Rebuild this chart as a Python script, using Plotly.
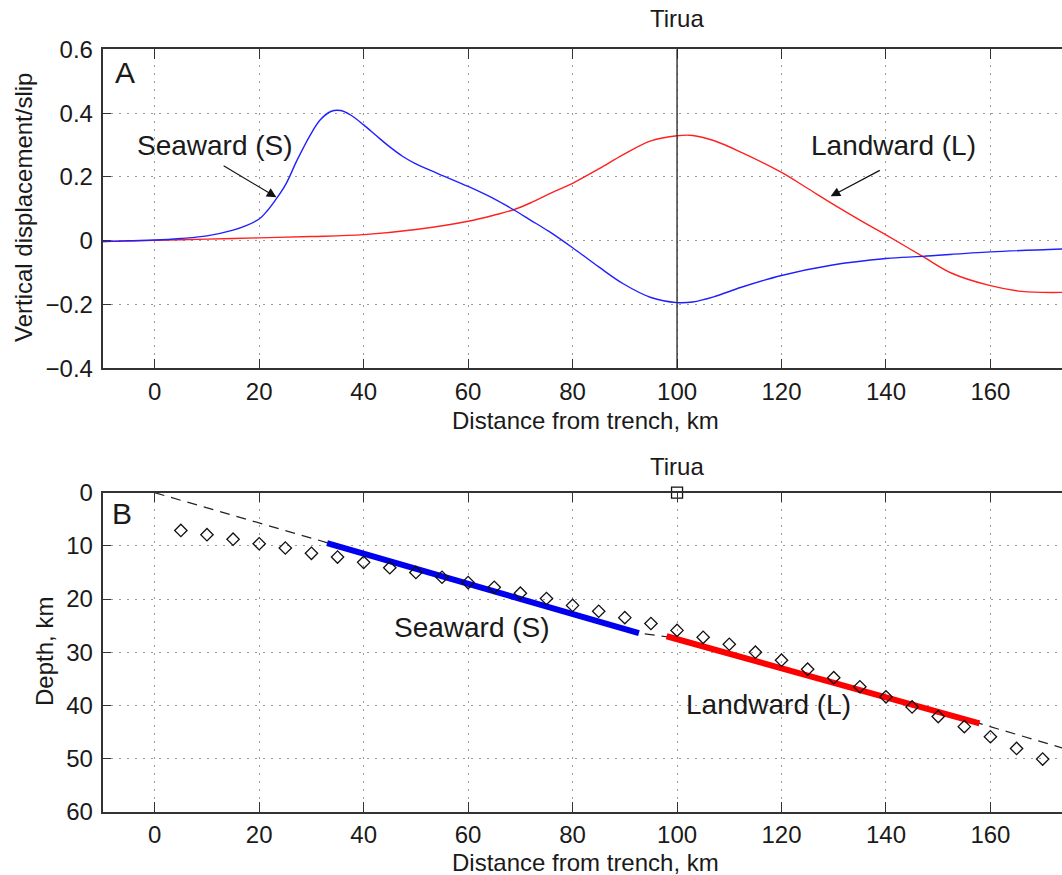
import plotly.graph_objects as go

# ---------------- data ----------------
# Panel A: vertical displacement / slip vs distance from trench (km)
seaward_x = [-10, -5, 0, 5, 10, 15, 17.5, 20, 21.5, 23, 25, 27.3, 29.8, 31.7, 33.7, 35.6, 37.5, 40,
             42.5, 45, 47.5, 50, 54, 60, 65, 68.7, 72, 75.4, 80, 85, 89.7, 95, 100, 103, 107,
             112.3, 120, 129.5, 140, 147, 160, 173.7]
seaward_y = [-0.003, 0.0, 0.002, 0.007, 0.015, 0.033, 0.047, 0.068, 0.093, 0.125, 0.174, 0.254,
             0.332, 0.379, 0.405, 0.408, 0.394, 0.363, 0.328, 0.294, 0.264, 0.241, 0.212, 0.17,
             0.131, 0.097, 0.064, 0.030, -0.022, -0.082, -0.135, -0.178, -0.194, -0.192, -0.176,
             -0.146, -0.109, -0.077, -0.056, -0.049, -0.035, -0.026]

landward_x = [-10, 0, 10, 20, 30, 40, 50, 60, 65.4, 68.7, 72, 75.4, 80, 85, 89.7, 95, 100, 103,
              107, 112.3, 120, 124.8, 130, 136, 140, 147, 152.6, 160, 166, 173.7]
landward_y = [-0.003, 0.001, 0.005, 0.009, 0.013, 0.019, 0.035, 0.061, 0.082, 0.097, 0.119, 0.146,
              0.180, 0.225, 0.270, 0.313, 0.329, 0.33, 0.314, 0.277, 0.214, 0.166, 0.113, 0.055,
              0.018, -0.049, -0.102, -0.141, -0.159, -0.162]

tirua_x = 100

# Panel B: depth profile (km)
fault_x = [0, 33, 92.7, 98, 157.9, 173.7]
fault_depth = [0, 9.4, 26.4, 27.1, 43.4, 48.0]

seaward_seg_x = [33, 92.7]
seaward_seg_depth = [9.5, 26.4]
landward_seg_x = [98, 157.9]
landward_seg_depth = [27.0, 43.4]

diamond_x = [5, 10, 15, 20, 25, 30, 35, 40, 45, 50, 55, 60, 65, 70, 75, 80, 85, 90, 95, 100,
             105, 110, 115, 120, 125, 130, 135, 140, 145, 150, 155, 160, 165, 170]
diamond_depth = [7.1, 7.9, 8.75, 9.6, 10.4, 11.4, 12.1, 13.1, 14.1, 15.0, 15.9, 16.9, 17.8, 18.9,
                 19.9, 21.2, 22.3, 23.5, 24.6, 25.9, 27.2, 28.5, 30.0, 31.5, 33.2, 34.8, 36.5,
                 38.4, 40.3, 42.1, 44.0, 45.9, 48.1, 50.1]

tirua_depth = 0

# ---------------- figure ----------------
W, H = 1062, 875
FONT = "Liberation Sans, Arial, Helvetica, sans-serif"
TXT = "#1a1a1a"
AX = "#333333"
GRID = "#9a9a9a"


def px(sx):
    return sx / W


def py(sy):
    return 1 - sy / H


fig = go.Figure()

fig.add_trace(go.Scatter(x=landward_x, y=landward_y, mode="lines",
                         line=dict(color="#ff2020", width=1.4, shape="spline", smoothing=1.0),
                         xaxis="x", yaxis="y", showlegend=False, name="Landward (L)"))
fig.add_trace(go.Scatter(x=seaward_x, y=seaward_y, mode="lines",
                         line=dict(color="#2020ff", width=1.4, shape="spline", smoothing=1.0),
                         xaxis="x", yaxis="y", showlegend=False, name="Seaward (S)"))

fig.add_trace(go.Scatter(x=fault_x, y=fault_depth, mode="lines",
                         line=dict(color="#222222", width=1.2, dash="10px,7px"),
                         xaxis="x2", yaxis="y2", showlegend=False))
fig.add_trace(go.Scatter(x=seaward_seg_x, y=seaward_seg_depth, mode="lines",
                         line=dict(color="#0000ee", width=6),
                         xaxis="x2", yaxis="y2", showlegend=False))
fig.add_trace(go.Scatter(x=landward_seg_x, y=landward_seg_depth, mode="lines",
                         line=dict(color="#ff0000", width=6),
                         xaxis="x2", yaxis="y2", showlegend=False))
fig.add_trace(go.Scatter(x=diamond_x, y=diamond_depth, mode="markers",
                         marker=dict(symbol="diamond-open", size=9.5, color="#111111",
                                     line=dict(width=1.3, color="#111111")),
                         xaxis="x2", yaxis="y2", showlegend=False))
fig.add_trace(go.Scatter(x=[tirua_x], y=[tirua_depth], mode="markers",
                         marker=dict(symbol="square-open", size=11, color="#111111",
                                     line=dict(width=1.3, color="#111111")),
                         xaxis="x2", yaxis="y2", showlegend=False, cliponaxis=False))

xdom = [px(102.5), px(1062)]
top_dom = [py(368.3), py(49.3)]
bot_dom = [py(811.7), py(492.7)]

common_x = dict(range=[-10, 173.7], tick0=0, dtick=20, ticks="inside", ticklen=10, tickwidth=1.2,
                tickcolor=AX, showline=True, linecolor=AX, linewidth=1.5, mirror="ticks",
                showgrid=True, gridcolor=GRID, griddash="2px,6px", gridwidth=1, zeroline=False,
                automargin=False,
                tickfont=dict(size=24, family=FONT, color=TXT), ticklabelstandoff=1, domain=xdom)
common_y = dict(ticks="inside", ticklen=9, tickwidth=1.2, tickcolor=AX, showline=True, linecolor=AX,
                linewidth=1.5, mirror=False, showgrid=True, gridcolor=GRID, griddash="2px,6px",
                gridwidth=1, zeroline=False, automargin=False,
                tickfont=dict(size=24, family=FONT, color=TXT), ticklabelstandoff=3)

fig.update_layout(
    template="none",
    width=W, height=H,
    margin=dict(l=0, r=0, t=0, b=0, pad=0, autoexpand=False),
    paper_bgcolor="white", plot_bgcolor="white",
    font=dict(family=FONT, color=TXT, size=24),
    xaxis=dict(anchor="y", **common_x),
    yaxis=dict(anchor="x", domain=top_dom, range=[-0.4, 0.6], tick0=0, dtick=0.2, **common_y),
    xaxis2=dict(anchor="y2", **common_x),
    yaxis2=dict(anchor="x2", domain=bot_dom, range=[60, 0], tick0=0, dtick=10, **common_y),
    shapes=[dict(type="line", xref="x", yref="y domain", x0=tirua_x, x1=tirua_x, y0=0, y1=1,
                 line=dict(color="#222222", width=1.3))],
)

C = dict(xanchor="center", yanchor="middle", showarrow=False)
ann = []
# panel letters
ann.append(dict(text="A", xref="paper", yref="paper", x=px(125), y=py(73),
                font=dict(size=30, family=FONT, color=TXT), **C))
ann.append(dict(text="B", xref="paper", yref="paper", x=px(122), y=py(513),
                font=dict(size=30, family=FONT, color=TXT), **C))
# Tirua labels
ann.append(dict(text="Tirua", xref="x", yref="paper", x=tirua_x, y=py(19),
                font=dict(size=24, family=FONT, color=TXT), **C))
ann.append(dict(text="Tirua", xref="x2", yref="paper", x=tirua_x, y=py(466),
                font=dict(size=24, family=FONT, color=TXT), **C))
# Panel A curve labels + arrows
ann.append(dict(text="Seaward (S)", xref="x", yref="y", x=11.6, y=0.298,
                font=dict(size=28, family=FONT, color=TXT), **C))
ann.append(dict(text="", xref="x", yref="y", x=23.3, y=0.136, ax=12.9, ay=0.238, axref="x", ayref="y",
                showarrow=True, arrowhead=2, arrowsize=1.6, arrowwidth=1.2, arrowcolor="#111111"))
ann.append(dict(text="Landward (L)", xref="x", yref="y", x=141.5, y=0.30,
                font=dict(size=28, family=FONT, color=TXT), **C))
ann.append(dict(text="", xref="x", yref="y", x=129.4, y=0.139, ax=139.1, ay=0.223, axref="x", ayref="y",
                showarrow=True, arrowhead=2, arrowsize=1.6, arrowwidth=1.2, arrowcolor="#111111"))
# Panel B labels
ann.append(dict(text="Seaward (S)", xref="x2", yref="y2", x=60.8, y=25.4,
                font=dict(size=28, family=FONT, color=TXT), **C))
ann.append(dict(text="Landward (L)", xref="x2", yref="y2", x=117.5, y=39.9,
                font=dict(size=28, family=FONT, color=TXT), **C))
# axis titles
ann.append(dict(text="Vertical displacement/slip", xref="paper", yref="paper", x=px(23), y=py(208),
                textangle=-90, font=dict(size=24, family=FONT, color=TXT), **C))
ann.append(dict(text="Depth, km", xref="paper", yref="paper", x=px(44), y=py(652),
                textangle=-90, font=dict(size=24, family=FONT, color=TXT), **C))
ann.append(dict(text="Distance from trench, km", xref="paper", yref="paper", x=px(585), y=py(421),
                font=dict(size=24, family=FONT, color=TXT), **C))
ann.append(dict(text="Distance from trench, km", xref="paper", yref="paper", x=px(585), y=py(862),
                font=dict(size=24, family=FONT, color=TXT), **C))
fig.update_layout(annotations=ann)

# remove the browser's default page margin so the figure sits at the window's top-left corner
fig.write_html("out.html", config={"displayModeBar": False},
               post_script="document.body.style.margin='0px';")
